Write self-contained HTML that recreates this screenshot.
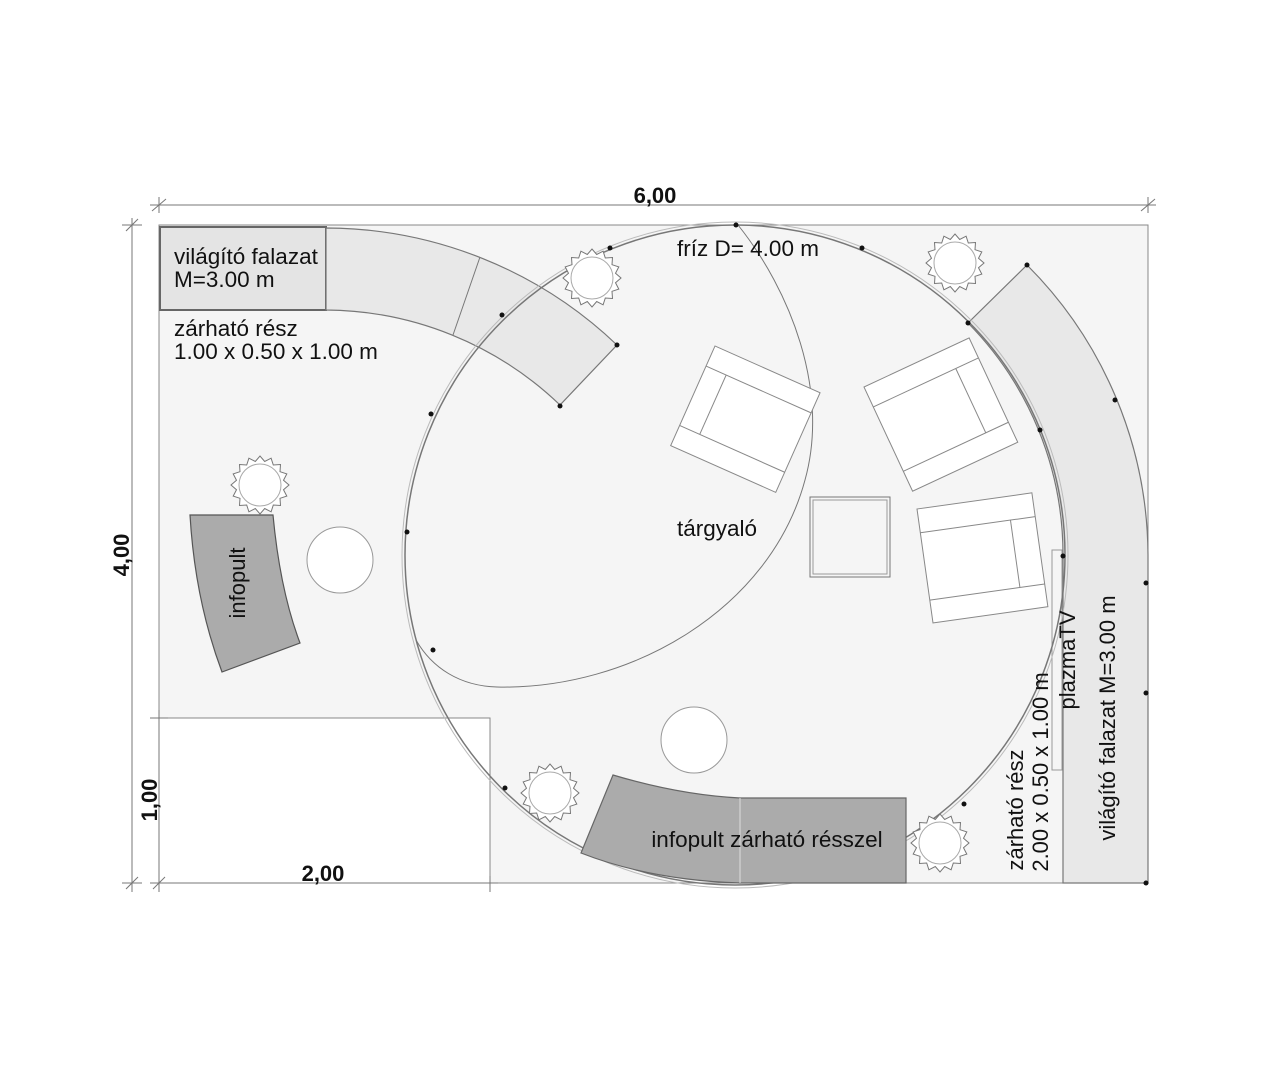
<!DOCTYPE html>
<html><head><meta charset="utf-8"><style>
html,body{margin:0;padding:0;background:#fff}
svg{display:block}
text{font-family:"Liberation Sans",sans-serif;fill:#111}
</style></head><body>
<svg width="1268" height="1080" viewBox="0 0 1268 1080" xmlns="http://www.w3.org/2000/svg">
<defs>
<g id="plant">
<polygon points="29,0 23.5,4.7 26.8,11.1 20,13.3 20.5,20.5 13.3,20 11.1,26.8 4.7,23.5 0,29 -4.7,23.5 -11.1,26.8 -13.3,20 -20.5,20.5 -20,13.3 -26.8,11.1 -23.5,4.7 -29,0 -23.5,-4.7 -26.8,-11.1 -20,-13.3 -20.5,-20.5 -13.3,-20 -11.1,-26.8 -4.7,-23.5 0,-29 4.7,-23.5 11.1,-26.8 13.3,-20 20.5,-20.5 20,-13.3 26.8,-11.1 23.5,-4.7" fill="#fff" stroke="#777" stroke-width="1"/>
<circle r="21" fill="#fff" stroke="#aaa" stroke-width="1"/>
</g>
</defs>
<!-- floor -->
<path d="M159,225 H1148 V883 H490 V718 H159 Z" fill="#f5f5f5" stroke="#888" stroke-width="1"/>
<line x1="490" y1="718" x2="490" y2="883" stroke="#888"/>
<!-- dimensions -->
<g stroke="#777" stroke-width="1" fill="none">
<line x1="150" y1="205" x2="1156" y2="205"/>
<line x1="159" y1="197" x2="159" y2="213"/><line x1="152" y1="211" x2="166" y2="199"/>
<line x1="1148" y1="197" x2="1148" y2="213"/><line x1="1141" y1="211" x2="1155" y2="199"/>
<line x1="132" y1="218" x2="132" y2="892"/>
<line x1="122" y1="225" x2="142" y2="225"/><line x1="126" y1="231" x2="138" y2="219"/>
<line x1="122" y1="883" x2="142" y2="883"/><line x1="126" y1="889" x2="138" y2="877"/>
<line x1="159" y1="710" x2="159" y2="892"/>
<line x1="150" y1="718" x2="168" y2="718"/>
<line x1="150" y1="883" x2="498" y2="883"/><line x1="153" y1="889" x2="165" y2="877"/>
<line x1="490" y1="876" x2="490" y2="892"/>
</g>
<text x="655" y="203" font-size="22" font-weight="bold" text-anchor="middle">6,00</text>
<text transform="translate(129,555) rotate(-90)" font-size="22" font-weight="bold" text-anchor="middle">4,00</text>
<text transform="translate(157,800) rotate(-90)" font-size="22" font-weight="bold" text-anchor="middle">1,00</text>
<text x="323" y="881" font-size="22" font-weight="bold" text-anchor="middle">2,00</text>

<!-- top-left box -->
<rect x="160" y="227" width="166" height="83" fill="#e4e4e4" stroke="#666" stroke-width="2"/>
<text x="174" y="264" font-size="22.5">világító falazat</text>
<text x="174" y="287" font-size="22.5">M=3.00 m</text>
<text x="174" y="336" font-size="22.5">zárható rész</text>
<text x="174" y="359" font-size="22.5">1.00 x 0.50 x 1.00 m</text>
<!-- top curved wall -->
<path d="M326,228 A423,423 0 0 1 617,345 L560,405 A341,341 0 0 0 326,310 Z" fill="#e8e8e8" stroke="#777" stroke-width="1.2"/>
<line x1="480" y1="257" x2="453" y2="335" stroke="#777"/>

<!-- right wall -->
<path d="M1027,265 A413,413 0 0 1 1148,555 V883 H1063 V555 A330,330 0 0 0 968,323 Z" fill="#e8e8e8" stroke="#777" stroke-width="1.2"/>
<rect x="1052" y="550" width="10" height="220" fill="#f5f5f5" stroke="#999" stroke-width="1"/>

<!-- big frieze circle -->
<circle cx="735" cy="555" r="330" fill="none" stroke="#777" stroke-width="1.5"/>
<circle cx="735" cy="555" r="333" fill="none" stroke="#bbb" stroke-width="1"/>
<!-- tárgyaló curve -->
<path d="M738,225 C790,290 830,390 805,480 C770,610 630,690 497,687 C460,686 432,668 416,640" fill="none" stroke="#777" stroke-width="1"/>

<!-- dots -->
<g fill="#111">
<circle cx="736" cy="225" r="2.5"/><circle cx="610" cy="248" r="2.5"/><circle cx="862" cy="248" r="2.5"/>
<circle cx="502" cy="315" r="2.5"/><circle cx="431" cy="414" r="2.5"/><circle cx="407" cy="532" r="2.5"/>
<circle cx="433" cy="650" r="2.5"/><circle cx="968" cy="323" r="2.5"/><circle cx="1040" cy="430" r="2.5"/>
<circle cx="1115" cy="400" r="2.5"/><circle cx="1063" cy="556" r="2.5"/><circle cx="1146" cy="583" r="2.5"/>
<circle cx="1146" cy="693" r="2.5"/><circle cx="1146" cy="883" r="2.5"/><circle cx="964" cy="804" r="2.5"/>
<circle cx="505" cy="788" r="2.5"/><circle cx="612" cy="859" r="2.5"/><circle cx="866" cy="855" r="2.5"/>
<circle cx="560" cy="406" r="2.5"/><circle cx="617" cy="345" r="2.5"/><circle cx="1027" cy="265" r="2.5"/>
</g>

<!-- left infopult -->
<path d="M190,515 L273,515 Q280,590 300,643 L222,672 Q195,600 190,515 Z" fill="#ababab" stroke="#555" stroke-width="1.2"/>
<text transform="translate(245,583) rotate(-90)" font-size="22" text-anchor="middle">infopult</text>

<!-- bottom infopult -->
<path d="M613,775 Q680,795 740,798 H906 V883 H740 Q650,880 581,853 Z" fill="#ababab" stroke="#666" stroke-width="1.2"/>
<line x1="740" y1="798" x2="740" y2="883" stroke="#ddd"/>
<text x="767" y="847" font-size="22.5" text-anchor="middle">infopult zárható résszel</text>

<!-- round tables -->
<circle cx="340" cy="560" r="33" fill="#fff" stroke="#999"/>
<circle cx="694" cy="740" r="33" fill="#fff" stroke="#999"/>

<!-- plants -->
<use href="#plant" x="592" y="278"/>
<use href="#plant" x="260" y="485"/>
<use href="#plant" x="955" y="263"/>
<use href="#plant" x="550" y="793"/>
<use href="#plant" x="940" y="843"/>

<!-- chairs -->
<g fill="#fff" stroke="#888" stroke-width="1">
<g transform="translate(715,346) rotate(24)">
<rect width="115" height="109"/><line x1="0" y1="22" x2="115" y2="22"/><line x1="0" y1="87" x2="115" y2="87"/><line x1="22" y1="22" x2="22" y2="87"/>
</g>
<g transform="translate(864,387) rotate(-25)">
<rect width="116" height="115"/><line x1="0" y1="22" x2="116" y2="22"/><line x1="0" y1="93" x2="116" y2="93"/><line x1="91" y1="22" x2="91" y2="93"/>
</g>
<g transform="translate(917,509) rotate(-8)">
<rect width="116" height="115"/><line x1="0" y1="24" x2="116" y2="24"/><line x1="0" y1="92" x2="116" y2="92"/><line x1="91" y1="24" x2="91" y2="92"/>
</g>
</g>
<rect x="810" y="497" width="80" height="80" fill="none" stroke="#777" stroke-width="1"/>
<rect x="813" y="500" width="74" height="74" fill="none" stroke="#999" stroke-width="1"/>

<text x="748" y="256" font-size="22.5" text-anchor="middle">fríz D= 4.00 m</text>
<text x="717" y="536" font-size="22.5" text-anchor="middle">tárgyaló</text>
<text transform="translate(1075,660) rotate(-90)" font-size="22" text-anchor="middle">plazmaTV</text>
<text transform="translate(1023,810) rotate(-90)" font-size="22" text-anchor="middle">zárható rész</text>
<text transform="translate(1048,772) rotate(-90)" font-size="22" text-anchor="middle">2.00 x 0.50 x 1.00 m</text>
<text transform="translate(1115,718) rotate(-90)" font-size="22" text-anchor="middle">világító falazat M=3.00 m</text>
</svg>
</body></html>
